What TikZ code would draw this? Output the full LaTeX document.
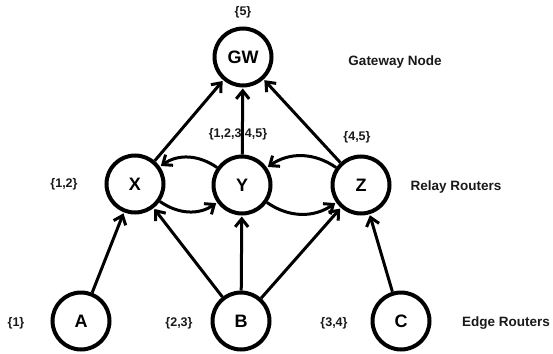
\documentclass[tikz,border=0pt]{standalone}
\usepackage{fontspec}
\setmainfont{Liberation Sans}
\usetikzlibrary{arrows.meta}
\begin{document}
\begin{tikzpicture}[x=1pt,y=-1pt,
  router/.style={circle,draw=black,line width=4pt,minimum size=57pt,inner sep=0pt,font=\fontsize{18}{20}\selectfont\bfseries},
  setlbl/.style={font=\fontsize{12.5}{14}\selectfont\bfseries,text=black!90,inner sep=0pt},
  tierlbl/.style={font=\fontsize{13.5}{15}\selectfont\bfseries,text=black!90,inner sep=0pt},
  link/.style={line width=3pt,-{Straight Barb[length=8pt,width=13pt,line width=3pt]},shorten >=1pt}]
\useasboundingbox (0,0) rectangle (553,353);
\node[router] (GW) at (243,57) {GW};
\node[router] (X) at (135,184) {X};
\node[router] (Y) at (242,185) {Y};
\node[router] (Z) at (361,185) {Z};
\node[router] (A) at (81,321) {A};
\node[router] (B) at (241,321) {B};
\node[router] (C) at (401,321) {C};
\node[setlbl] (l5) at (243,12) {\{5\}};
\node[setlbl] (l12345) at (238,134) {\{1,2,3,4,5\}};
\node[setlbl] (l45) at (357,137) {\{4,5\}};
\node[setlbl] (l12) at (64,184) {\{1,2\}};
\node[setlbl] (l1) at (16,323) {\{1\}};
\node[setlbl] (l23) at (179,323) {\{2,3\}};
\node[setlbl] (l34) at (334,323) {\{3,4\}};
\node[tierlbl] (tg) at (395,62) {Gateway Node};
\node[tierlbl] (tr) at (456,187) {Relay Routers};
\node[tierlbl] (te) at (506,323) {Edge Routers};
\draw[link] (A) -- (X);
\draw[link] (B) -- (X);
\draw[link] (B) -- (Y);
\draw[link] (B) -- (Z);
\draw[link] (C) -- (Z);
\draw[link] (X) -- (GW);
\draw[link] (Y) -- (GW);
\draw[link] (Z) -- (GW);
\draw[link] (Y) to[out=145,in=35] (X);
\draw[link] (X) to[out=-35,in=-145] (Y);
\draw[link] (Z) to[out=145,in=35] (Y);
\draw[link] (Y) to[out=-35,in=-145] (Z);
\end{tikzpicture}
\end{document}
